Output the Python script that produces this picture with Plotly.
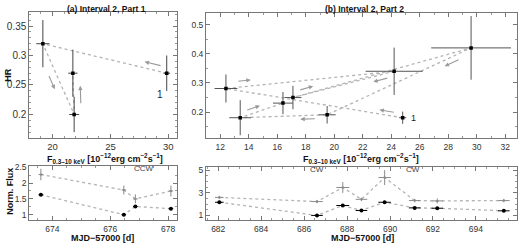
import plotly.graph_objects as go
import numpy as np

# ---------------- data ----------------
# Panel (a): Interval 2, Part 1 (time order)
a_flux = [29.86, 19.17, 21.87, 21.76]
a_flux_err = [0.29, 0.57, 0.43, 0.40]
a_hr = [0.27, 0.32, 0.20, 0.27]
a_hr_err = [0.03, 0.04, 0.03, 0.04]

# Panel (b): Interval 2, Part 2 (time order)
b_flux = [24.8, 12.4, 24.2, 17.1, 29.6, 19.5, 13.4, 16.4]
b_flux_err = [0.25, 0.8, 2.0, 0.6, 2.8, 0.6, 0.77, 0.7]
b_hr = [0.181, 0.281, 0.34, 0.25, 0.42, 0.191, 0.181, 0.231]
b_hr_err = [0.021, 0.048, 0.081, 0.04, 0.109, 0.03, 0.06, 0.038]

# Light curves
a_mjd = [673.6, 676.47, 676.87, 678.1]
a_mjd_err = [0.08, 0.08, 0.08, 0.08]
a_gray = [2.27, 1.78, 1.50, 1.75]
a_gray_err = [0.18, 0.14, 0.14, 0.17]
a_black = [1.63, 1.0, 1.26, 1.19]
a_black_err = [0.03, 0.03, 0.03, 0.03]

b_mjd = [682.05, 686.6, 687.8, 688.67, 689.75, 691.15, 692.2, 695.3]
b_mjd_err = [0.2, 0.27, 0.3, 0.27, 0.29, 0.27, 0.27, 0.27]
b_gray = [2.6, 2.23, 3.48, 2.43, 4.36, 2.32, 2.29, 2.32]
b_gray_err = [0.15, 0.15, 0.48, 0.15, 0.66, 0.15, 0.22, 0.15]
b_black = [2.17, 1.0, 1.88, 1.44, 2.17, 1.67, 1.64, 1.41]
b_black_err = [0.08, 0.06, 0.08, 0.08, 0.08, 0.08, 0.08, 0.08]

# ---------------- layout geometry ----------------
W, H = 520, 244
dom = {
    "x": [29.3 / W, 176.7 / W], "y": [1 - 136.3 / H, 1 - 8.3 / H],
    "x2": [206 / W, 516.7 / W], "y2": [1 - 136.7 / H, 1 - 9 / H],
    "x3": [29.3 / W, 176.7 / W], "y3": [1 - 220 / H, 1 - 165 / H],
    "x4": [206 / W, 516.7 / W], "y4": [1 - 220 / H, 1 - 165.7 / H],
}
rng = {
    "x": [18.0, 30.72], "y": [0.16, 0.3735],
    "x2": [11.0, 32.8], "y2": [0.11, 0.54],
    "x3": [673.2, 678.3], "y3": [0.82, 2.53],
    "x4": [681.43, 695.9], "y4": [0.56, 5.3],
}

GRAY_LINE = "#b4b4b4"
ERR = "#444444"

fig = go.Figure()


def path_trace(x, y, xr, yr, color=GRAY_LINE):
    return go.Scatter(x=x, y=y, mode="lines", xaxis=xr, yaxis=yr,
                      line=dict(color=color, width=1.3, dash="dot"),
                      hoverinfo="skip", showlegend=False)


def pts(x, y, ex, ey, xr, yr, color, size, ecolor, symbol="square"):
    return go.Scatter(x=x, y=y, mode="markers", xaxis=xr, yaxis=yr,
                      marker=dict(color=color, size=size, symbol=symbol),
                      error_x=dict(type="data", array=ex, color=ecolor, thickness=1, width=0),
                      error_y=dict(type="data", array=ey, color=ecolor, thickness=1, width=0),
                      showlegend=False)


# (a) HR
fig.add_trace(path_trace(a_flux, a_hr, "x", "y"))
fig.add_trace(pts(a_flux, a_hr, a_flux_err, a_hr_err, "x", "y", "black", 3.5, ERR))
# (b) HR
fig.add_trace(path_trace(b_flux, b_hr, "x2", "y2"))
fig.add_trace(pts(b_flux, b_hr, b_flux_err, b_hr_err, "x2", "y2", "black", 3.5, "#555555"))
# (a) light curve
fig.add_trace(path_trace(a_mjd, a_gray, "x3", "y3"))
fig.add_trace(path_trace(a_mjd, a_black, "x3", "y3"))
fig.add_trace(pts(a_mjd, a_gray, a_mjd_err, a_gray_err, "x3", "y3", "#8a8a8a", 2, "#8a8a8a"))
fig.add_trace(pts(a_mjd, a_black, a_mjd_err, a_black_err, "x3", "y3", "black", 4, "black", "circle"))
# (b) light curve
fig.add_trace(path_trace(b_mjd, b_gray, "x4", "y4"))
fig.add_trace(path_trace(b_mjd, b_black, "x4", "y4"))
fig.add_trace(pts(b_mjd, b_gray, b_mjd_err, b_gray_err, "x4", "y4", "#8a8a8a", 2, "#8a8a8a"))
fig.add_trace(pts(b_mjd, b_black, b_mjd_err, b_black_err, "x4", "y4", "black", 4, "black", "circle"))


# ---------------- arrows along path segments ----------------
def to_px(ax, v, horizontal):
    d = dom[ax]
    r = rng[ax]
    if horizontal:
        return (d[0] + (v - r[0]) / (r[1] - r[0]) * (d[1] - d[0])) * W
    return (1 - (d[0] + (v - r[0]) / (r[1] - r[0]) * (d[1] - d[0]))) * H


annotations = []


def seg_arrow(xs, ys, xr, yr, i, t, off, length):
    x0, y0, x1, y1 = xs[i], ys[i], xs[i + 1], ys[i + 1]
    p0 = np.array([to_px(xr, x0, True), to_px(yr, y0, False)])
    p1 = np.array([to_px(xr, x1, True), to_px(yr, y1, False)])
    d = (p1 - p0) / np.linalg.norm(p1 - p0)
    n = np.array([-d[1], d[0]])
    hx = x0 + t * (x1 - x0)
    hy = y0 + t * (y1 - y0)
    sh = n * off
    annotations.append(dict(
        x=hx, y=hy, xref=xr, yref=yr, text="", showarrow=True,
        ax=-length * d[0], ay=-length * d[1], axref="pixel", ayref="pixel",
        xshift=sh[0], yshift=-sh[1],
        arrowhead=2, arrowsize=0.8, arrowwidth=1.1, arrowcolor="#9a9a9a"))


# panel (a) arrows: (segment, t, offset, length)
for seg, t, off, ln in [(0, 0.19, 6, 18), (1, 0.6, 7.5, 16), (2, 0.69, 7, 19)]:
    seg_arrow(a_flux, a_hr, "x", "y", seg, t, off, ln)
# panel (b) arrows
for seg, t, off, ln in [(0, 0.135, 4, 16), (1, 0.151, -6, 14), (2, 0.218, -5, 16),
                        (3, 0.122, -5.5, 15), (4, 0.2, -5.5, 17), (5, 0.31, -3.5, 16),
                        (6, 0.5, -5, 15)]:
    seg_arrow(b_flux, b_hr, "x2", "y2", seg, t, off, ln)

# point labels "1"
annotations.append(dict(x=a_flux[0], y=a_hr[0], xref="x", yref="y", text="1", showarrow=False,
                        xshift=-7, yshift=-21, font=dict(size=10, color="#222")))
annotations.append(dict(x=b_flux[0], y=b_hr[0], xref="x2", yref="y2", text="1", showarrow=False,
                        xshift=11, yshift=0, font=dict(size=9, color="#222")))

# direction labels
for txt, px, py in [("CCW", 131.7, 174.3), ("CW", 316.7, 174.5), ("CW", 421.7, 175)]:
    annotations.append(dict(x=px / W, y=1 - py / H, xref="paper", yref="paper", text=txt,
                            showarrow=False, font=dict(size=8, color="#444")))

# titles and axis titles
ftitle = dict(size=8.5, color="#111")
flab = dict(size=9, color="#111")
xt = "<b>F<sub>0.3–10 keV</sub> [10<sup>−12</sup>erg cm<sup>−2</sup>s<sup>−1</sup>]</b>"
for txt, px, py, f, ang in [
    ("<b>(a) Interval 2, Part 1</b>", 106, 5, ftitle, 0),
    ("<b>(b) Interval 2, Part 2</b>", 364, 5, ftitle, 0),
    (xt, 105, 157.5, flab, 0),
    (xt, 361, 157, flab, 0),
    ("<b>MJD−57000 [d]</b>", 102, 238, flab, 0),
    ("<b>MJD−57000 [d]</b>", 362, 238, flab, 0),
    ("<b>HR</b>", 8, 72, flab, -90),
    ("<b>Norm. Flux</b>", 10, 191, flab, -90),
]:
    annotations.append(dict(x=px / W, y=1 - py / H, xref="paper", yref="paper", text=txt,
                            showarrow=False, textangle=ang, font=f,
                            xanchor="center", yanchor="middle"))


def axis(name, tickvals, ticktext, fsize, minor_dtick):
    return dict(domain=dom[name], range=rng[name], tickvals=tickvals, ticktext=ticktext,
                showline=True, linecolor="#777", linewidth=1, mirror="ticks",
                ticks="inside", ticklen=4, tickcolor="#777", tickwidth=1,
                minor=dict(ticks="inside", ticklen=2, tickcolor="#999", dtick=minor_dtick),
                showgrid=False, zeroline=False,
                tickfont=dict(size=fsize, color="#333", family="Liberation Sans"))


a_xt = [20, 25, 30]
a_yt = [0.2, 0.25, 0.3, 0.35]
b_xt = list(range(12, 33, 2))
b_yt = [0.2, 0.3, 0.4, 0.5]
a_mt = [674, 676, 678]
a_ft = [1, 1.5, 2, 2.5]
b_mt = list(range(682, 695, 2))
b_ft = [1, 3, 5]

fig.update_layout(
    width=W, height=H, margin=dict(l=0, r=0, t=0, b=0),
    paper_bgcolor="white", plot_bgcolor="white",
    font=dict(family="Liberation Sans", color="#222"),
    showlegend=False,
    xaxis=dict(**axis("x", a_xt, [str(v) for v in a_xt], 9.5, 1), anchor="y"),
    yaxis=dict(**axis("y", a_yt, ["0.2", "0.25", "0.3", "0.35"], 10, 0.01), anchor="x"),
    xaxis2=dict(**axis("x2", b_xt, [str(v) for v in b_xt], 8.5, 1), anchor="y2"),
    yaxis2=dict(**axis("y2", b_yt, ["0.2", "0.3", "0.4", "0.5"], 8.5, 0.05), anchor="x2"),
    xaxis3=dict(**axis("x3", a_mt, [str(v) for v in a_mt], 8.5, 0.5), anchor="y3"),
    yaxis3=dict(**axis("y3", a_ft, ["1", "1.5", "2", "2.5"], 8.5, 0.25), anchor="x3"),
    xaxis4=dict(**axis("x4", b_mt, [str(v) for v in b_mt], 8.5, 0.5), anchor="y4"),
    yaxis4=dict(**axis("y4", b_ft, ["1", "3", "5"], 8.5, 0.5), anchor="x4"),
    annotations=annotations,
)

fig.write_html("out.html", config={"displayModeBar": False},
               post_script="document.body.style.margin='0';document.body.style.overflow='hidden';")
